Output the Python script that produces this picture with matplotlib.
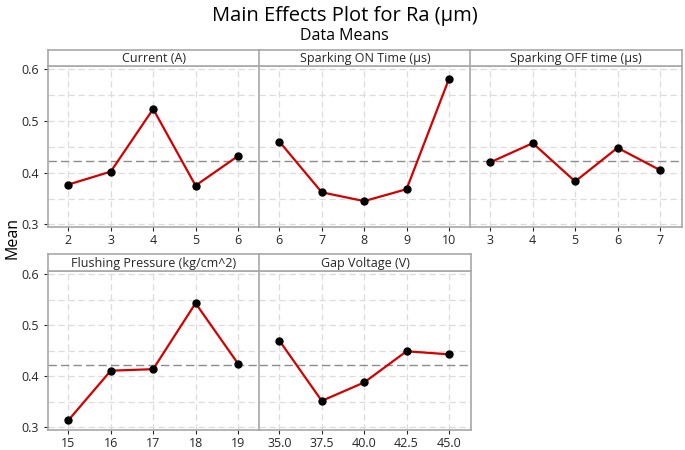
import matplotlib
matplotlib.use("Agg")
import matplotlib.pyplot as plt
import numpy as np

plt.rcParams["font.family"] = ["Open Sans", "DejaVu Sans"]

factor_names = [
    "Current (A)",
    "Sparking ON Time (µs)",
    "Sparking OFF time (µs)",
    "Flushing Pressure (kg/cm^2)",
    "Gap Voltage (V)",
]
current_levels = [2, 3, 4, 5, 6]
current_means = [0.377, 0.402, 0.523, 0.375, 0.432]
ton_levels = [6, 7, 8, 9, 10]
ton_means = [0.460, 0.362, 0.345, 0.368, 0.581]
toff_levels = [3, 4, 5, 6, 7]
toff_means = [0.420, 0.457, 0.383, 0.448, 0.405]
pressure_levels = [15, 16, 17, 18, 19]
pressure_means = [0.314, 0.411, 0.414, 0.543, 0.425]
voltage_levels = [35.0, 37.5, 40.0, 42.5, 45.0]
voltage_means = [0.470, 0.352, 0.388, 0.449, 0.443]
grand_mean = 0.422

levels = [current_levels, ton_levels, toff_levels, pressure_levels, voltage_levels]
means = [current_means, ton_means, toff_means, pressure_means, voltage_means]
xtick_fmt = ["{:g}", "{:g}", "{:g}", "{:g}", "{:.1f}"]

W, H = 685, 450
fig = plt.figure(figsize=(W / 100, H / 100), dpi=100)

frame_col = "#a8a8a8"
text_col = "#262626"

# pixel boxes: (strip_top, axes_top, axes_bottom) per row
col_left = [48, 259, 470]
col_w = 212
rows = [(50, 66, 227), (254, 271, 430)]


def px_box(x0, y0, x1, y1):
    return [x0 / W, 1 - y1 / H, (x1 - x0) / W, (y1 - y0) / H]


for i in range(5):
    r, c = divmod(i, 3)
    s_top, a_top, a_bot = rows[r]
    x0 = col_left[c]
    x1 = x0 + col_w
    ax = fig.add_axes(px_box(x0, a_top, x1, a_bot))
    st = fig.add_axes(px_box(x0, s_top, x1, a_top))

    # strip header
    st.set_xticks([])
    st.set_yticks([])
    for sp in st.spines.values():
        sp.set_color(frame_col)
        sp.set_linewidth(1.2)
    st.text(0.5, 0.45, factor_names[i], ha="center", va="center",
            fontsize=9, color=text_col, transform=st.transAxes)

    xs = np.array(levels[i], dtype=float)
    span = xs.max() - xs.min()
    ax.set_xlim(xs.min() - 0.12 * span, xs.max() + 0.13 * span)
    ax.set_ylim(0.295, 0.606)

    ax.set_yticks(np.arange(0.3, 0.601, 0.05), minor=True)
    ax.set_yticks([0.3, 0.4, 0.5, 0.6])
    ax.set_xticks(xs)
    ax.set_xticklabels([xtick_fmt[i].format(v) for v in xs])
    ax.grid(True, which="both", axis="y", color="#dcdcdc",
            linestyle=(0, (5, 3)), linewidth=0.9)
    ax.grid(True, which="major", axis="x", color="#dcdcdc",
            linestyle=(0, (5, 3)), linewidth=0.9)
    ax.set_axisbelow(True)

    ax.axhline(grand_mean, color="#8c8c8c", linestyle=(0, (6, 3)),
               linewidth=1.0, zorder=1)
    ax.plot(xs, means[i], color="#d40000", linewidth=1.6, zorder=2)
    ax.plot(xs, means[i], "o", color="black", markersize=5, zorder=3)

    ax.tick_params(axis="both", which="major", labelsize=9,
                   colors=text_col, length=3, width=0.8)
    ax.tick_params(axis="y", which="minor", length=0)
    ax.tick_params(axis="x", pad=2)
    if c != 0:
        ax.tick_params(axis="y", which="major", length=0, labelleft=False)
    else:
        ax.set_yticklabels(["0.3", "0.4", "0.5", "0.6"])
    for sp in ax.spines.values():
        sp.set_color(frame_col)
        sp.set_linewidth(1.2)

fig.text(345 / W, 1 - 16 / H, "Main Effects Plot for Ra (µm)",
         ha="center", va="center", fontsize=14.5, color="black")
fig.text(344 / W, 1 - 36 / H, "Data Means",
         ha="center", va="center", fontsize=11.5, color="black")
fig.text(12 / W, 1 - 238 / H, "Mean", ha="center", va="center",
         rotation=90, fontsize=11.5, color="black")

fig.savefig("out.png", dpi=100, facecolor="white")
